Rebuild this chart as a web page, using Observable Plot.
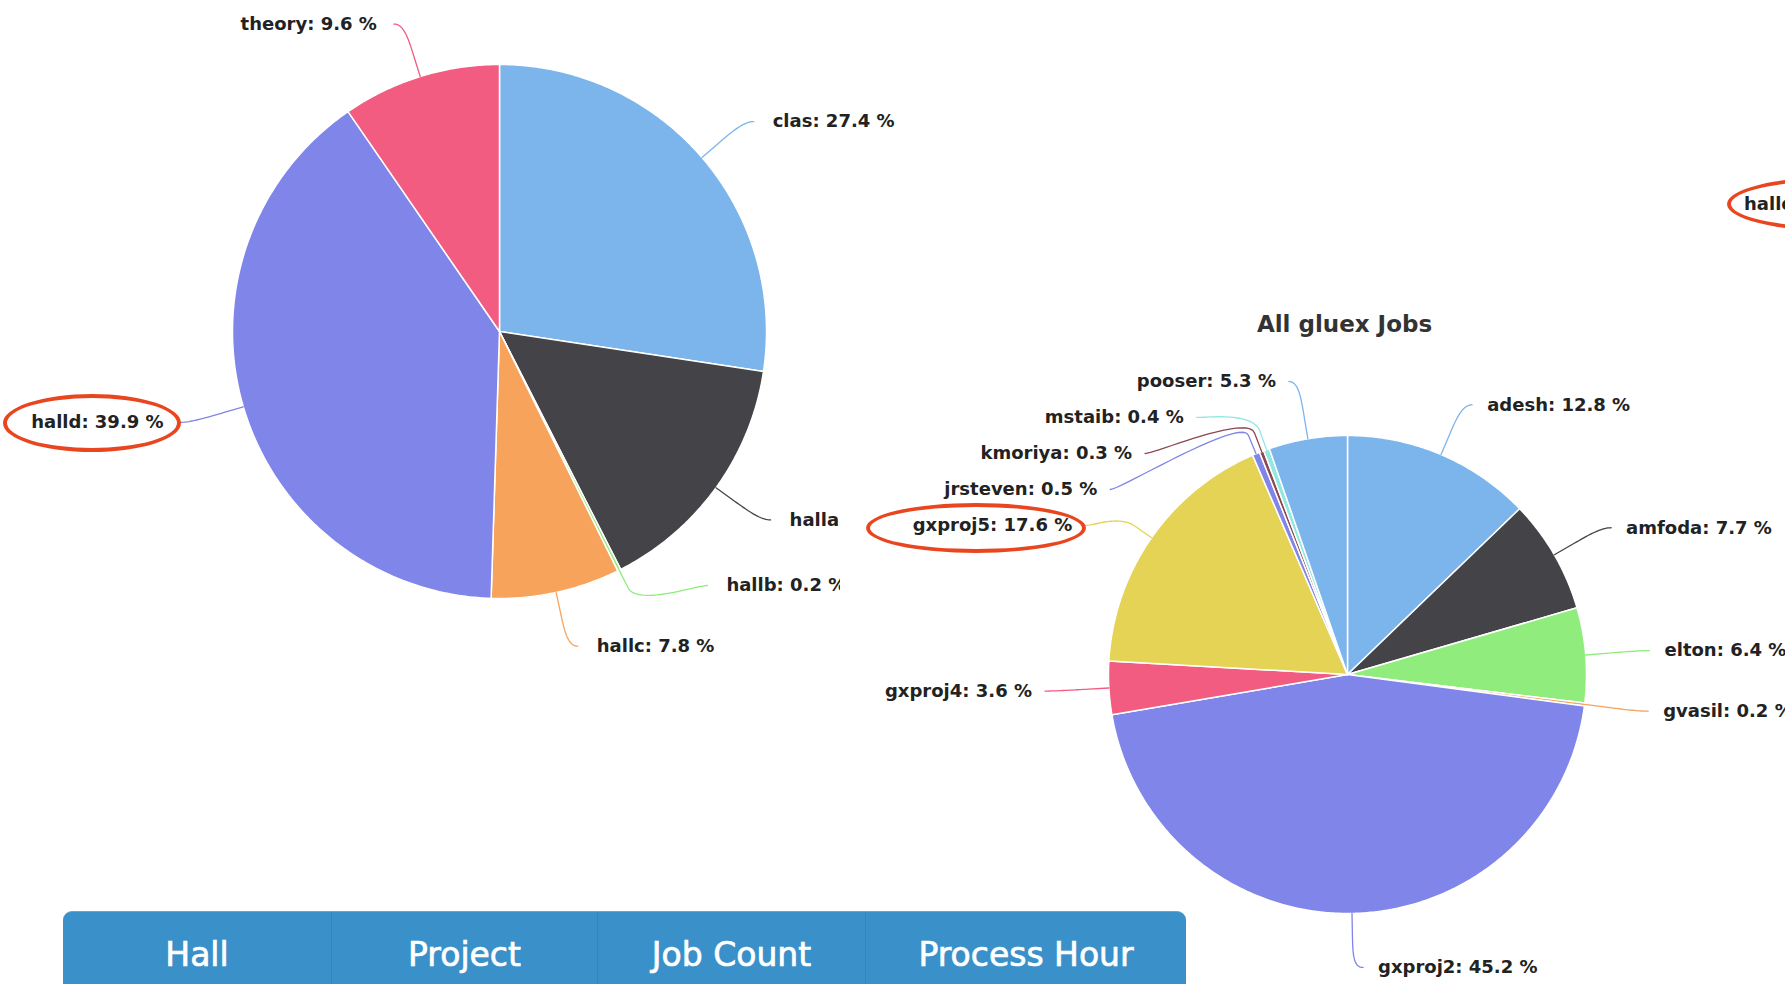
<!DOCTYPE html>
<html><head><meta charset="utf-8">
<script src="https://cdn.jsdelivr.net/npm/d3@7"></script>
<script src="https://cdn.jsdelivr.net/npm/@observablehq/plot@0.6"></script>
<style>
html,body{margin:0;padding:0;background:#fff;overflow:hidden;}
#page{position:relative;width:1785px;height:984px;overflow:hidden;background:#fff;}
.chart{position:absolute;overflow:hidden;}
.chart svg{background:transparent !important;overflow:hidden;display:block;}
.ring{position:absolute;box-sizing:border-box;border:4.5px solid #e9461f;border-radius:50%;pointer-events:none;z-index:3;}
.stray{position:absolute;font-family:"DejaVu Sans";font-weight:bold;font-size:18px;color:#222;line-height:22px;white-space:nowrap;}
#thead{position:absolute;left:63px;top:911px;width:1123px;height:90px;background:#3a90c9;border-radius:9px 9px 0 0;display:flex;font-family:"DejaVu Sans";color:#fff;font-size:33px;border-top:1px solid #5ea9d9;box-sizing:border-box;z-index:2;}
#thead div{box-sizing:border-box;text-align:center;line-height:38px;padding-top:24px;border-left:1px solid rgba(0,0,0,0.07);white-space:nowrap;-webkit-text-stroke:0.7px #fff;}
#thead div:first-child{border-left:none;}
</style></head><body>
<div id="page">
  <div id="left" class="chart" style="left:0;top:0;width:1000px;height:720px;z-index:0;"></div>
  <div id="right" class="chart" style="left:840px;top:280px;width:945px;height:704px;background:#fff;z-index:1;"></div>
  <div class="stray" style="left:1744px;top:193px;">halld</div>
  <div class="ring" style="left:3px;top:394px;width:178px;height:58px;"></div>
  <div class="ring" style="left:866px;top:503px;width:220px;height:50px;"></div>
  <div class="ring" style="left:1727px;top:177px;width:216px;height:54px;"></div>
  <div id="thead"></div>
</div>
<script>
// ---- data ----
const hallNames = ["clas", "halla", "hallb", "hallc", "halld", "theory"];
const hallShares = [27.4, 15.1, 0.2, 7.8, 39.9, 9.6];
const hallColors = ["#7cb5ec", "#434348", "#90ed7d", "#f7a35c", "#8085e9", "#f15c80"];

const userNames = ["adesh", "amfoda", "elton", "gvasil", "gxproj2", "gxproj4", "gxproj5", "jrsteven", "kmoriya", "mstaib", "pooser"];
const userShares = [12.8, 7.7, 6.4, 0.2, 45.2, 3.6, 17.6, 0.5, 0.3, 0.4, 5.3];
const palette = ["#7cb5ec", "#434348", "#90ed7d", "#f7a35c", "#8085e9", "#f15c80", "#e4d354", "#8085e8", "#8d4653", "#91e8e1"];

const rightTitle = "All gluex Jobs";
const headerLabels = ["Hall", "Project", "Job Count", "Process Hour"];
const headerWidths = [268, 266, 268, 321];

// ---- label distribution (slot based, like the original pie labels) ----
function distribute(points, cy, R, gap, plotH) {
  const slots = [];
  const bottom = Math.min(cy + R, plotH);
  for (let pos = cy - R; pos <= bottom + 1e-6; pos += gap) slots.push(pos);
  const sl = slots.length, len = points.length, used = [];
  points.forEach((p, j) => {
    let closest = 1e9, idx = 0;
    for (let k = 0; k < sl; k++) {
      const d = Math.abs((slots[k] === null ? 0 : slots[k]) - p.ny);
      if (d < closest) { closest = d; idx = k; }
    }
    if (idx < j && slots[j] !== null) idx = j;
    else if (sl < len - j + idx && slots[j] !== null) { idx = sl - len + j; while (slots[idx] === null) idx++; }
    else { while (slots[idx] === null) idx++; }
    used.push({i: idx, y: slots[idx]});
    slots[idx] = null;
  });
  used.sort((a, b) => b.y - a.y);
  points.forEach(p => {
    const s = used.pop();
    let y = s.y;
    if ((p.ny > y && slots[s.i + 1] !== null) || (p.ny < y && slots[s.i - 1] !== null)) y = Math.min(Math.max(0, p.ny), plotH);
    p.y = y;
    p.atEdge = Math.abs(y - (cy - R)) < 1e-6 || Math.abs(y - (cy + R)) < 1e-6;
  });
}

function pieLayout(names, shares, colors, cx, cy, r, dist, plotH, gapL, gapR) {
  const total = d3.sum(shares);
  let acc = 0;
  const slices = names.map((n, i) => {
    const a0 = acc / total * 2 * Math.PI; acc += shares[i];
    const a1 = acc / total * 2 * Math.PI;
    return {name: n, share: shares[i], color: colors[i % colors.length], a0, a1, mid: (a0 + a1) / 2};
  });
  const R = r + dist;
  for (const s of slices) { s.left = s.mid > Math.PI; s.ny = cy - R * Math.cos(s.mid); }
  distribute(slices.filter(s => !s.left).sort((a, b) => a.mid - b.mid), cy, R, 36, plotH);
  distribute(slices.filter(s => s.left).sort((a, b) => b.mid - a.mid), cy, R, 36, plotH);
  const poly = [], conn = [], labels = [];
  for (const s of slices) {
    const sg = s.left ? -1 : 1;
    const yy = s.atEdge ? s.ny : s.y;
    s.x = cx + sg * Math.sqrt(Math.max(0, R * R - (yy - cy) * (yy - cy)));
    const n = Math.max(2, Math.ceil((s.a1 - s.a0) / (Math.PI / 360)));
    poly.push({name: s.name, color: s.color, x: cx, y: cy});
    for (let k = 0; k <= n; k++) {
      const a = s.a0 + (s.a1 - s.a0) * k / n;
      poly.push({name: s.name, color: s.color, x: cx + r * Math.sin(a), y: cy - r * Math.cos(a)});
    }
    poly.push({name: s.name, color: s.color, x: cx, y: cy});
    const sn = Math.sin(s.mid), cs = Math.cos(s.mid);
    const p3 = [cx + r * sn, cy - r * cs];
    const p2 = [cx + (r + 20) * sn, cy - (r + 20) * cs];
    const c2 = [cx + (r + 40) * sn, cy - (r + 40) * cs];
    const p0 = [s.x + sg * 10, s.y], c1 = [s.x, s.y];
    for (let k = 0; k <= 20; k++) {
      const t = k / 20, u = 1 - t;
      conn.push({name: s.name, color: s.color,
        x: u*u*u*p0[0] + 3*u*u*t*c1[0] + 3*u*t*t*c2[0] + t*t*t*p2[0],
        y: u*u*u*p0[1] + 3*u*u*t*c1[1] + 3*u*t*t*c2[1] + t*t*t*p2[1]});
    }
    conn.push({name: s.name, color: s.color, x: p3[0], y: p3[1]});
    labels.push({left: s.left, tx: s.x + (s.left ? -gapL : gapR), y: s.y,
      text: `${s.name}: ${s.share.toFixed(1)} %`});
  }
  return {poly, conn, labels};
}

function pieChart({names, shares, colors, width, height, cx, cy, r, dist, gapL, gapR, title, titleX, titleY}) {
  const L = pieLayout(names, shares, colors, cx, cy, r, dist, height, gapL, gapR);
  const font = {fontFamily: "DejaVu Sans", fontWeight: "bold", fontSize: 18, fill: "#222"};
  const marks = [
    Plot.line(L.poly, {x: "x", y: "y", z: "name", fill: "color", stroke: "white", strokeWidth: 1.5, strokeLinejoin: "round", curve: "linear"}),
    Plot.line(L.conn, {x: "x", y: "y", z: "name", stroke: "color", strokeWidth: 1.3, fill: "none", curve: "linear"}),
    Plot.text(L.labels.filter(d => !d.left), {x: "tx", y: "y", text: "text", textAnchor: "start", ...font}),
    Plot.text(L.labels.filter(d => d.left), {x: "tx", y: "y", text: "text", textAnchor: "end", ...font})
  ];
  if (title) marks.push(Plot.text([title], {x: () => titleX, y: () => titleY, text: d => d, fontFamily: "DejaVu Sans", fontWeight: "bold", fontSize: 23, fill: "#333"}));
  return Plot.plot({
    width, height, margin: 0,
    x: {domain: [0, width], range: [0, width], axis: null},
    y: {domain: [0, height], range: [0, height], axis: null},
    color: {type: "identity"},
    style: {background: "transparent", overflow: "hidden"},
    marks
  });
}

document.getElementById("left").append(pieChart({
  names: hallNames, shares: hallShares, colors: hallColors,
  width: 1000, height: 720, cx: 499, cy: 331, r: 267, dist: 55, gapL: 27, gapR: 29
}));
document.getElementById("right").append(pieChart({
  names: userNames, shares: userShares, colors: palette,
  width: 945, height: 704, cx: 507, cy: 394, r: 239, dist: 54, gapL: 23, gapR: 25,
  title: rightTitle, titleX: 504, titleY: 44
}));

const th = document.getElementById("thead");
headerLabels.forEach((h, i) => {
  const d = document.createElement("div");
  d.style.width = headerWidths[i] + "px";
  d.textContent = h;
  th.append(d);
});
</script>
</body></html>
